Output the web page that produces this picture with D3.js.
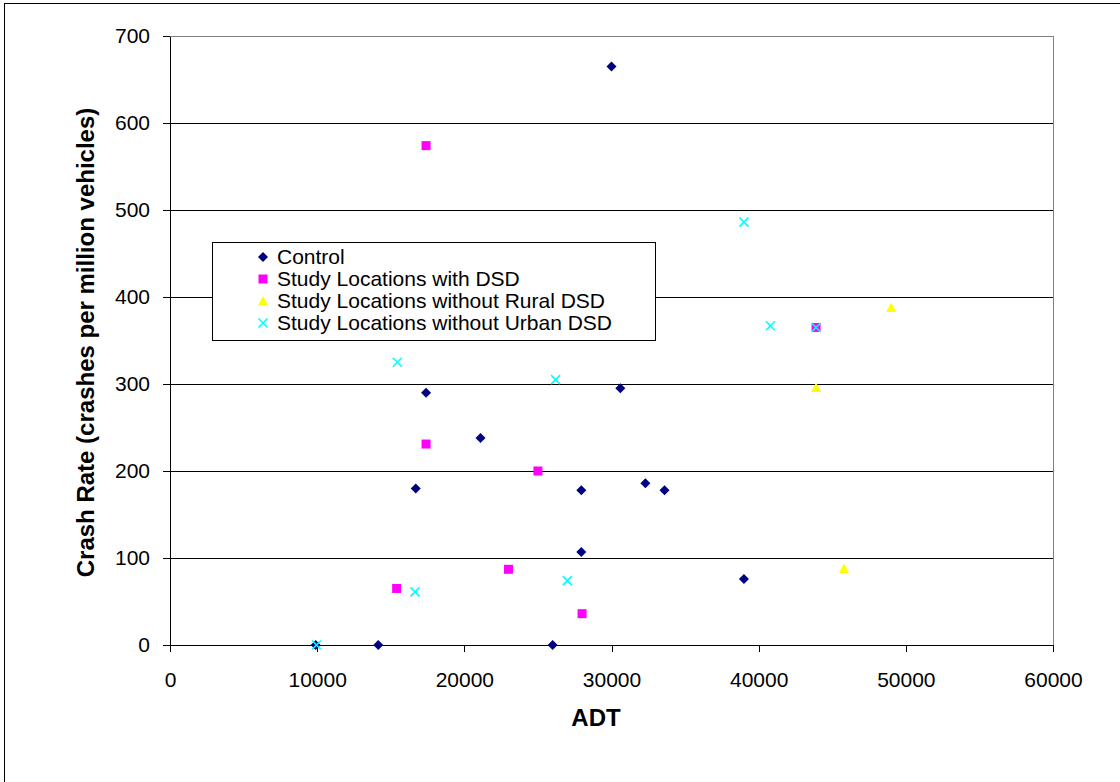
<!DOCTYPE html>
<html lang="en">
<head>
  <meta charset="UTF-8" />
  <title>Crash Rate vs ADT</title>
  <script src="https://cdnjs.cloudflare.com/ajax/libs/d3/7.8.5/d3.min.js"></script>
  <style>
    body {
      margin: 0;
      background: #fff;
    }
    svg {
      display: block;
      font-family: "Liberation Sans", Arial, sans-serif;
    }
    .axis text {
      font-size: 21px;
      fill: #000;
    }
    .axis path, .axis line {
      stroke: #000;
      shape-rendering: crispEdges;
    }
  </style>
</head>
<body>
  <svg id="chart" width="1120" height="782"></svg>

  <script>
    // values
    const controlX = [30000, 17400, 30600, 21100, 16700, 27950, 32300, 33600, 27950, 39000, 9900, 14150, 26000];
    const controlY = [665, 290, 295, 238, 180, 178, 186, 178, 107, 76, 0, 0, 0];

    const dsdX = [17400, 17400, 25000, 23000, 15400, 28000, 43900];
    const dsdY = [574, 231, 200, 87, 65, 36, 365];

    const ruralX = [49000, 43900, 45800];
    const ruralY = [388, 296, 88];

    const urbanX = [39000, 40800, 43900, 15450, 26200, 27000, 16650, 9950];
    const urbanY = [486, 367, 365, 325, 305, 74, 61, 0];

    const xTicks = [0, 10000, 20000, 30000, 40000, 50000, 60000];
    const yTicks = [0, 100, 200, 300, 400, 500, 600, 700];

    const series = [
      { name: "Control", xs: controlX, ys: controlY, shape: "diamond", color: "#000080" },
      { name: "Study Locations with DSD", xs: dsdX, ys: dsdY, shape: "square", color: "#ff00ff" },
      { name: "Study Locations without Rural DSD", xs: ruralX, ys: ruralY, shape: "triangle", color: "#ffff00" },
      { name: "Study Locations without Urban DSD", xs: urbanX, ys: urbanY, shape: "cross", color: "#00ffff" }
    ];

    const svg = d3.select("#chart");
    const plotL = 170, plotR = 1053, plotT = 36, plotB = 645;

    const x = d3.scaleLinear().domain([0, 60000]).range([plotL, plotR]);
    const y = d3.scaleLinear().domain([0, 700]).range([plotB, plotT]);

    // outer chart border
    svg.append("rect")
      .attr("x", 4.5).attr("y", 3.5)
      .attr("width", 1130).attr("height", 800)
      .attr("fill", "none")
      .attr("stroke", "#000");

    // plot area border (gray)
    svg.append("rect")
      .attr("x", plotL).attr("y", plotT)
      .attr("width", plotR - plotL).attr("height", plotB - plotT)
      .attr("fill", "none")
      .attr("stroke", "#808080")
      .attr("shape-rendering", "crispEdges");

    // gridlines
    svg.append("g")
      .selectAll("line")
      .data(yTicks.filter(d => d > 0 && d < 700))
      .enter().append("line")
      .attr("x1", plotL).attr("x2", plotR)
      .attr("y1", d => Math.round(y(d)) + 0.5)
      .attr("y2", d => Math.round(y(d)) + 0.5)
      .attr("stroke", "#000");

    svg.append("g")
      .attr("class", "axis")
      .attr("transform", `translate(0,${plotB})`)
      .call(d3.axisBottom(x).tickValues(xTicks).tickFormat(d3.format("d")).tickSize(7).tickSizeOuter(0).tickPadding(20));

    svg.append("g")
      .attr("class", "axis")
      .attr("transform", `translate(${plotL},0)`)
      .call(d3.axisLeft(y).tickValues(yTicks).tickSize(7).tickSizeOuter(0).tickPadding(13));

    // axis titles
    svg.append("text")
      .attr("x", 596)
      .attr("y", 726)
      .attr("text-anchor", "middle")
      .attr("font-size", "24px")
      .attr("font-weight", "bold")
      .text("ADT");

    svg.append("text")
      .attr("transform", `translate(94,${(plotT + plotB) / 2 + 2}) rotate(-90)`)
      .attr("text-anchor", "middle")
      .attr("font-size", "24px")
      .attr("font-weight", "bold")
      .text("Crash Rate (crashes per million vehicles)");

    function marker(g, shape, color) {
      if (shape === "diamond") {
        g.append("path").attr("d", "M0,-5L5,0L0,5L-5,0Z").attr("fill", color);
      } else if (shape === "square") {
        g.append("rect").attr("x", -4.5).attr("y", -4.5).attr("width", 9).attr("height", 9).attr("fill", color);
      } else if (shape === "triangle") {
        g.append("path").attr("d", "M0,-5L5,4.5L-5,4.5Z").attr("fill", color);
      } else {
        g.append("path").attr("d", "M-4.5,-4.5L4.5,4.5M-4.5,4.5L4.5,-4.5")
          .attr("stroke", color).attr("stroke-width", 1.6).attr("fill", "none");
      }
    }

    // points
    series.forEach(s => {
      const pts = s.xs.map((v, i) => [v, s.ys[i]]);
      svg.append("g")
        .selectAll("g")
        .data(pts)
        .enter().append("g")
        .attr("transform", d => `translate(${x(d[0])},${y(d[1])})`)
        .each(function () { marker(d3.select(this), s.shape, s.color); });
    });

    // legend
    const legend = svg.append("g").attr("transform", "translate(212,242)");
    legend.append("rect")
      .attr("x", 0.5).attr("y", 0.5)
      .attr("width", 443).attr("height", 98)
      .attr("fill", "#fff")
      .attr("stroke", "#000");

    series.forEach((s, i) => {
      const row = legend.append("g").attr("transform", `translate(51,${15 + i * 22})`);
      marker(row, s.shape, s.color);
      row.append("text")
        .attr("x", 14)
        .attr("y", 7)
        .attr("font-size", "21px")
        .text(s.name);
    });
  </script>
</body>
</html>
